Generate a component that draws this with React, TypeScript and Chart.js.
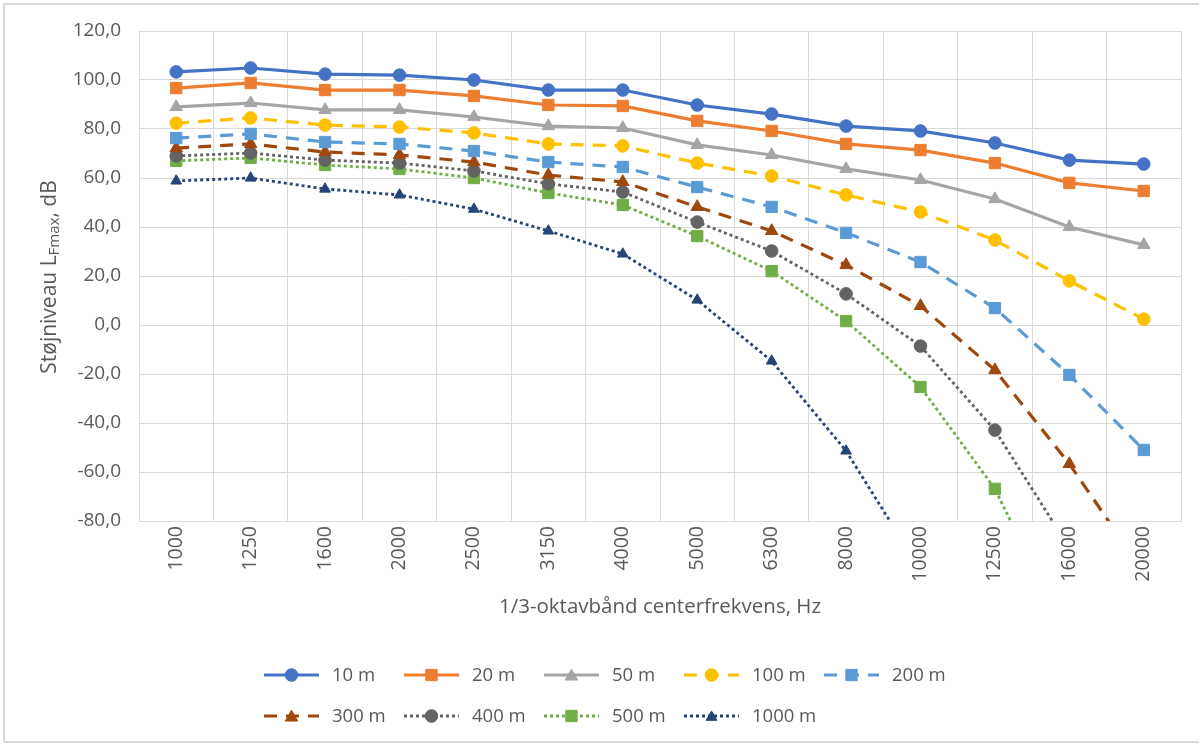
import React, { useEffect, useRef } from "react";
import { Chart, registerables } from "chart.js";
Chart.register(...registerables);

const categories = ["1000", "1250", "1600", "2000", "2500", "3150", "4000", "5000", "6300", "8000", "10000", "12500", "16000", "20000"];
const seriesLabels = ["10 m", "20 m", "50 m", "100 m", "200 m", "300 m", "400 m", "500 m", "1000 m"];
const s10 = [103.3, 104.9, 102.4, 102.0, 100.0, 95.9, 95.9, 89.8, 86.1, 81.2, 79.2, 74.3, 67.3, 65.7];
const s20 = [96.7, 98.8, 95.9, 95.9, 93.5, 89.8, 89.4, 83.3, 79.2, 73.9, 71.4, 66.1, 58.0, 54.7];
const s50 = [89.0, 90.6, 87.8, 87.8, 84.9, 81.2, 80.4, 73.5, 69.4, 63.7, 59.2, 51.4, 40.0, 32.7];
const s100 = [82.4, 84.5, 81.6, 80.8, 78.4, 73.9, 73.1, 66.1, 60.8, 53.1, 46.1, 34.7, 18.0, 2.4];
const s200 = [76.3, 78.0, 74.7, 73.9, 71.0, 66.5, 64.5, 56.3, 48.2, 37.6, 25.7, 6.9, -20.4, -51.0];
const s300 = [72.2, 73.9, 70.6, 69.4, 66.5, 61.2, 58.4, 48.2, 38.4, 24.5, 7.8, -18.4, -56.7, -101.0];
const s400 = [69.0, 70.2, 67.3, 66.1, 62.9, 57.6, 54.3, 42.0, 30.2, 12.7, -8.6, -42.9, -91.0, -150.0];
const s500 = [67.0, 68.2, 65.3, 63.7, 60.0, 53.9, 49.0, 36.3, 22.0, 1.6, -25.3, -66.9, -129.0, -200.0];
const s1000 = [58.8, 60.0, 55.5, 53.1, 47.3, 38.4, 29.0, 10.2, -14.7, -51.4, -100.0, -160.0, -230.0, -300.0];
const seriesValues = [s10, s20, s50, s100, s200, s300, s400, s500, s1000];

const yMin = -80;
const yMax = 120;
const yStep = 20;
const yTitleMain = "Støjniveau L";
const yTitleSub = "Fmax";
const yTitleEnd = ", dB";
const xTitle = "1/3-oktavbånd centerfrekvens, Hz";

const colors = ["#4472C4", "#ED7D31", "#A5A5A5", "#FFC000", "#5B9BD5", "#9E480E", "#636363", "#70AD47", "#264478"];
const styles = ["circle", "rect", "triangle", "circle", "rect", "triangle", "circle", "rect", "triangle"];
const radii = [6.3, 8, 7.2, 6.3, 8, 7.2, 6.3, 8, 6.2];
const DASH = [13, 9];
const DOT = [3, 3];
const dashes = [[], [], [], DASH, DASH, DASH, DOT, DOT, DOT];
const widths = [3.2, 3.2, 3.2, 3.2, 3.2, 3.2, 2.8, 2.8, 2.8];

const FONT = "'Open Sans', 'Liberation Sans', sans-serif";
const TEXT = "#595959";
const GRID = "#d9d9d9";

function drawMarker(ctx: CanvasRenderingContext2D, style: string, r: number, x: number, y: number, color: string) {
  ctx.save();
  ctx.setLineDash([]);
  ctx.fillStyle = color;
  ctx.strokeStyle = color;
  ctx.lineWidth = 1;
  ctx.beginPath();
  if (style === "circle") {
    ctx.arc(x, y, r, 0, Math.PI * 2);
  } else if (style === "rect") {
    const s = Math.SQRT1_2 * r;
    ctx.rect(x - s, y - s, 2 * s, 2 * s);
  } else {
    const a = (Math.PI * 2) / 3;
    for (let k = 0; k < 3; k++) {
      const ang = -Math.PI / 2 + k * a;
      const px = x + Math.cos(ang) * r;
      const py = y + Math.sin(ang) * r + r * 0.2;
      if (k === 0) ctx.moveTo(px, py);
      else ctx.lineTo(px, py);
    }
    ctx.closePath();
  }
  ctx.fill();
  ctx.stroke();
  ctx.restore();
}

const framePlugin = {
  id: "frame",
  beforeDraw(chart: any) {
    const ctx = chart.ctx as CanvasRenderingContext2D;
    ctx.save();
    ctx.fillStyle = "#ffffff";
    ctx.fillRect(0, 0, chart.width, chart.height);
    ctx.strokeStyle = GRID;
    ctx.lineWidth = 2;
    ctx.beginPath();
    ctx.moveTo(4, 742);
    ctx.lineTo(4, 4);
    ctx.lineTo(1199, 4);
    ctx.moveTo(4, 742);
    ctx.lineTo(1199, 742);
    ctx.stroke();
    ctx.restore();
  },
  afterDraw(chart: any) {
    const ctx = chart.ctx as CanvasRenderingContext2D;
    const area = chart.chartArea;
    ctx.save();
    ctx.fillStyle = TEXT;
    // x title
    ctx.font = `20.5px ${FONT}`;
    ctx.textAlign = "center";
    ctx.textBaseline = "middle";
    ctx.fillText(xTitle, (area.left + area.right) / 2, 607);
    // y title with subscript
    ctx.save();
    ctx.translate(50, 277);
    ctx.rotate(-Math.PI / 2);
    ctx.textAlign = "left";
    ctx.textBaseline = "middle";
    const mainFont = `21px ${FONT}`;
    const subFont = `15px ${FONT}`;
    ctx.font = mainFont;
    const w1 = ctx.measureText(yTitleMain).width;
    const w3 = ctx.measureText(yTitleEnd).width;
    ctx.font = subFont;
    const w2 = ctx.measureText(yTitleSub).width;
    const total = w1 + w2 + w3;
    let x = -total / 2;
    ctx.font = mainFont;
    ctx.fillText(yTitleMain, x, 0);
    x += w1;
    ctx.font = subFont;
    ctx.fillText(yTitleSub, x, 5);
    x += w2;
    ctx.font = mainFont;
    ctx.fillText(yTitleEnd, x, 0);
    ctx.restore();
    // legend
    ctx.font = `18.5px ${FONT}`;
    ctx.textAlign = "left";
    ctx.textBaseline = "middle";
    for (let i = 0; i < seriesLabels.length; i++) {
      const row = i < 5 ? 0 : 1;
      const col = i < 5 ? i : i - 5;
      const x0 = 264 + col * 140;
      const y = row === 0 ? 675 : 716;
      ctx.save();
      ctx.strokeStyle = colors[i];
      ctx.lineWidth = widths[i];
      ctx.setLineDash(dashes[i]);
      ctx.beginPath();
      ctx.moveTo(x0, y);
      ctx.lineTo(x0 + 55, y);
      ctx.stroke();
      ctx.restore();
      drawMarker(ctx, styles[i], radii[i], x0 + 27.5, y, colors[i]);
      ctx.fillStyle = TEXT;
      ctx.fillText(seriesLabels[i], x0 + 68, y + 1);
    }
    ctx.restore();
  },
};

export default function App() {
  const ref = useRef<HTMLCanvasElement | null>(null);
  useEffect(() => {
    if (!ref.current) return;
    const chart = new Chart(ref.current, {
      type: "line",
      data: {
        labels: categories,
        datasets: seriesValues.map((vals, i) => ({
          label: seriesLabels[i],
          data: vals,
          borderColor: colors[i],
          backgroundColor: colors[i],
          borderWidth: widths[i],
          borderDash: dashes[i],
          pointStyle: styles[i] as any,
          pointRadius: radii[i],
          pointHoverRadius: radii[i],
          pointBorderWidth: 1,
          pointBorderColor: colors[i],
          pointBackgroundColor: colors[i],
          tension: 0,
          fill: false,
          clip: { left: 12, right: 12, top: 12, bottom: 0 } as any,
        })),
      },
      options: {
        responsive: false,
        animation: false,
        devicePixelRatio: 1,
        layout: { padding: { left: 0, top: 31, right: 19, bottom: 0 } },
        plugins: {
          legend: { display: false },
          title: { display: false },
          tooltip: { enabled: false },
        },
        scales: {
          x: {
            type: "category",
            offset: true,
            grid: { offset: true, color: GRID, lineWidth: 1, drawTicks: false },
            border: { color: GRID, width: 1 },
            ticks: {
              minRotation: 90,
              maxRotation: 90,
              autoSkip: false,
              padding: 5,
              color: TEXT,
              font: { family: FONT, size: 19.5 },
            },
            afterFit(scale: any) {
              scale.height = 744 - 521;
            },
          },
          y: {
            min: yMin,
            max: yMax,
            grid: { color: GRID, lineWidth: 1, drawTicks: false },
            border: { color: GRID, width: 1 },
            ticks: {
              stepSize: yStep,
              padding: 18,
              color: TEXT,
              font: { family: FONT, size: 19 },
              callback: (v: any) => Number(v).toFixed(1).replace(".", ","),
            },
            afterFit(scale: any) {
              scale.width = 139;
            },
          },
        },
      },
      plugins: [framePlugin],
    });
    return () => chart.destroy();
  }, []);
  return (
    <div style={{ position: "absolute", left: 0, top: 0, width: 1200, height: 744 }}>
      <canvas ref={ref} width={1200} height={744} style={{ display: "block", width: 1200, height: 744 }} />
    </div>
  );
}
